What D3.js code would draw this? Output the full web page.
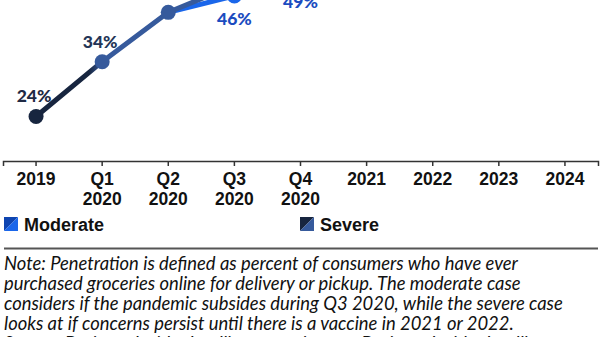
<!DOCTYPE html>
<html>
<head>
<meta charset="utf-8">
<script src="https://cdn.jsdelivr.net/npm/d3@7"></script>
<style>
  body { margin: 0; background: #fff; }
  svg { display: block; }
</style>
</head>
<body>
<svg id="chart"></svg>
<script>
// periodes sur l'axe
const periods = ["2019", "Q1 2020", "Q2 2020", "Q3 2020", "Q4 2020", "2021", "2022", "2023", "2024"];
// penetration (%) - scenario severe / modere
const severe = [24, 34, 43, 48];
const moderate = [null, null, 43, 46, 49];
const legendNames = ["Moderate", "Severe"];
const noteLines = [
  "Note: Penetration is defined as percent of consumers who have ever",
  "purchased groceries online for delivery or pickup. The moderate case",
  "considers if the pandemic subsides during Q3 2020, while the severe case",
  "looks at if concerns persist until there is a vaccine in 2021 or 2022.",
  "Source: Business Insider Intelligence estimates, Business Insider Intelligence"
];

const width = 600;
const height = 337;

const navy = "#17253f";
const steel = "#365a9c";
const blue = "#1a66ea";
const blueDark = "#0e44b0";
const labelBlue = "#1b4cc0";

const svg = d3.select("#chart")
  .attr("width", width)
  .attr("height", height);

const x = d3.scaleBand()
  .domain(periods)
  .range([3, 598])
  .padding(0);
const cx = d => x(d) + x.bandwidth() / 2;

const y = d3.scaleLinear()
  .domain([20, 50])
  .range([138.4, -26]);

const axisY = 161;

// gradient pour la ligne severe (fonce au debut)
const defs = svg.append("defs");
const grad = defs.append("linearGradient")
  .attr("id", "sevGrad")
  .attr("gradientUnits", "userSpaceOnUse")
  .attr("x1", cx(periods[0])).attr("x2", cx(periods[1]))
  .attr("y1", 0).attr("y2", 0);
grad.append("stop").attr("offset", "0%").attr("stop-color", navy);
grad.append("stop").attr("offset", "80%").attr("stop-color", navy);
grad.append("stop").attr("offset", "100%").attr("stop-color", steel);

// axe
const axis = d3.axisBottom(x)
  .tickSize(5)
  .tickSizeOuter(5)
  .tickFormat("");
const gAxis = svg.append("g")
  .attr("transform", `translate(0,${axisY})`)
  .call(axis);
gAxis.selectAll("path, line")
  .attr("stroke", "#333")
  .attr("stroke-width", 1.5);

// libelles de l'axe sur deux lignes
periods.forEach(p => {
  const parts = p.split(" ");
  const t = svg.append("text")
    .attr("x", cx(p))
    .attr("text-anchor", "middle")
    .attr("font-family", "Liberation Sans, Arial, sans-serif")
    .attr("font-weight", "bold")
    .attr("font-size", 17.5)
    .attr("fill", "#111");
  parts.forEach((s, i) => {
    t.append("tspan")
      .attr("x", cx(p))
      .attr("y", 185 + i * 20)
      .text(s);
  });
});

// lignes
const line = d3.line()
  .defined(d => d.v != null)
  .x(d => cx(d.p))
  .y(d => y(d.v));

const sevData = severe.map((v, i) => ({ p: periods[i], v }));
const modData = moderate.map((v, i) => ({ p: periods[i], v }));

svg.append("path")
  .datum(modData)
  .attr("d", line)
  .attr("fill", "none")
  .attr("stroke", blue)
  .attr("stroke-width", 5)
  .attr("stroke-linejoin", "round");

svg.append("path")
  .datum(sevData)
  .attr("d", line)
  .attr("fill", "none")
  .attr("stroke", "url(#sevGrad)")
  .attr("stroke-width", 5)
  .attr("stroke-linejoin", "round");

svg.selectAll("circle.mod")
  .data(modData.filter(d => d.v != null && d.p !== periods[2]))
  .enter().append("circle")
  .attr("class", "mod")
  .attr("cx", d => cx(d.p))
  .attr("cy", d => y(d.v))
  .attr("r", 7.5)
  .attr("fill", blue);

svg.selectAll("circle.sev")
  .data(sevData)
  .enter().append("circle")
  .attr("class", "sev")
  .attr("cx", d => cx(d.p))
  .attr("cy", d => y(d.v))
  .attr("r", 7.5)
  .attr("fill", (d, i) => i === 0 ? navy : steel);

// etiquettes de valeurs : severe au-dessus, modere en dessous
svg.selectAll("text.sevLab")
  .data(sevData)
  .enter().append("text")
  .attr("class", "sevLab")
  .attr("x", d => cx(d.p) - 2)
  .attr("y", d => y(d.v) - 14)
  .attr("text-anchor", "middle")
  .attr("font-family", "Lato, sans-serif")
  .attr("font-weight", 900)
  .attr("font-size", 17.5)
  .attr("fill", d => d.p === periods[0] ? "#1f2a44" : "#243556")
  .text(d => d.v + "%");

svg.selectAll("text.modLab")
  .data(modData.filter(d => d.v != null && d.p !== periods[2]))
  .enter().append("text")
  .attr("class", "modLab")
  .attr("x", d => cx(d.p))
  .attr("y", d => y(d.v) + 29)
  .attr("text-anchor", "middle")
  .attr("font-family", "Lato, sans-serif")
  .attr("font-weight", 900)
  .attr("font-size", 17.5)
  .attr("fill", labelBlue)
  .text(d => d.v + "%");

// legende
const legendX = [4, 300];
const swatchCols = [[blueDark, blue], [navy, steel]];
legendNames.forEach((name, i) => {
  const g = svg.append("g").attr("transform", `translate(${legendX[i]},217)`);
  g.append("path")
    .attr("d", "M0,0H14L0,14Z")
    .attr("fill", swatchCols[i][0]);
  g.append("path")
    .attr("d", "M14,0V14H0Z")
    .attr("fill", swatchCols[i][1]);
  g.append("text")
    .attr("x", 20)
    .attr("y", 13.5)
    .attr("font-family", "Liberation Sans, Arial, sans-serif")
    .attr("font-weight", "bold")
    .attr("font-size", 18)
    .attr("fill", "#111")
    .text(name);
});

// separateur
svg.append("line")
  .attr("x1", 4).attr("x2", 598)
  .attr("y1", 248.5).attr("y2", 248.5)
  .attr("stroke", "#555")
  .attr("stroke-width", 2);

// notes
svg.selectAll("text.note")
  .data(noteLines)
  .enter().append("text")
  .attr("class", "note")
  .attr("x", 4)
  .attr("y", (d, i) => 270 + i * 20)
  .attr("font-family", "Lato, sans-serif")
  .attr("font-style", "italic")
  .attr("font-size", 18.4)
  .attr("fill", "#111")
  .text(d => d);
</script>
</body>
</html>
